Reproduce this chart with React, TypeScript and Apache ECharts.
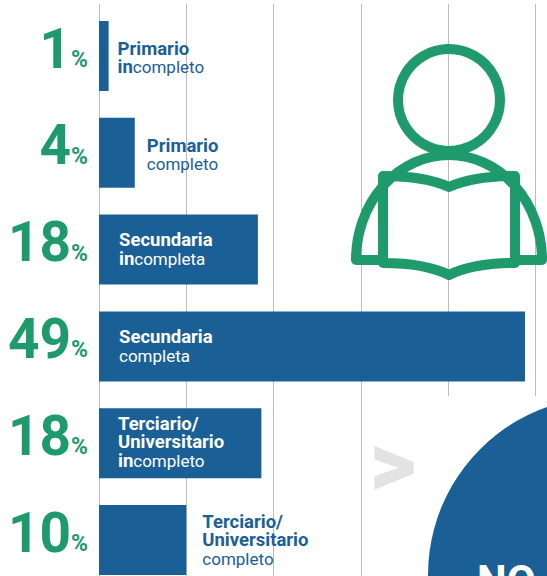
import React, { useEffect, useRef } from "react";
import * as echarts from "echarts";

const categories = ["Primario incompleto", "Primario completo", "Secundaria incompleta", "Secundaria completa", "Terciario/Universitario incompleto", "Terciario/Universitario completo"];
const values = [1.1, 4.1, 18.2, 48.8, 18.6, 10];
const percentLabels = ["1", "4", "18", "49", "18", "10"];
const labelTexts = [
  "{bb|Primario}\n{bb|in}{rb|completo}",
  "{bb|Primario}\n{rb|completo}",
  "{bw|Secundaria}\n{bw|in}{rw|completa}",
  "{bw|Secundaria}\n{rw|completa}",
  "{bw|Terciario/}\n{bw|Universitario}\n{bw|in}{rw|completo}",
  "{bb|Terciario/}\n{bb|Universitario}\n{rb|completo}",
];
const labelPlacement: [string, number][] = [["right", 9], ["right", 12], ["insideLeft", 20], ["insideLeft", 20], ["insideLeft", 19], ["right", 16]];
const labelOffsets: [number, number][] = [[0, 2], [0, 2], [0, 0], [0, 0], [0, -1], [0, 0]];

const GREEN = "#1f9a6c";
const BLUE = "#1a6096";
const GRID = "#bcbcbc";
const FONT = "Roboto";

const personPath = "M356 260 A93 105 0 0 1 542 260 L515 260 M356 260 L383 260 M383 176 Q425 176 449 187 Q473 176 515 176 L515 263 Q473 263 449 275 Q425 263 383 263 Z";

export default function App() {
  const ref = useRef<HTMLDivElement>(null);
  useEffect(() => {
    document.body.style.margin = "0";
    echarts.graphic.registerShape("person", echarts.graphic.extendPath(personPath, {}));
    const chart = echarts.init(ref.current!, null, { renderer: "svg" });
    const rich = {
      bb: { fontFamily: FONT, fontWeight: 700, fontSize: 18.5, lineHeight: 18.5, color: BLUE },
      rb: { fontFamily: FONT, fontWeight: 400, fontSize: 17, lineHeight: 18.5, color: BLUE },
      bw: { fontFamily: FONT, fontWeight: 700, fontSize: 18.5, lineHeight: 18.5, color: "#ffffff" },
      rw: { fontFamily: FONT, fontWeight: 400, fontSize: 17, lineHeight: 18.5, color: "#ffffff" },
    };
    chart.setOption({
      animation: false,
      backgroundColor: "#ffffff",
      grid: [
        { left: 99, top: 7.6, width: 436.5, height: 580.8, outerBoundsMode: "none" },
        { left: 99, top: 4, width: 436.5, height: 4, outerBoundsMode: "none" },
      ],
      xAxis: [
        { type: "value", gridIndex: 0, min: 0, max: 50, interval: 10, axisLabel: { show: false }, axisTick: { show: false }, axisLine: { show: false }, splitLine: { show: true, lineStyle: { color: GRID, width: 1 } } },
        { type: "value", gridIndex: 1, min: 0, max: 50, interval: 10, axisLabel: { show: false }, axisTick: { show: false }, axisLine: { show: false }, splitLine: { show: true, lineStyle: { color: GRID, width: 1 } } },
      ],
      yAxis: [
        {
          type: "category", gridIndex: 0, inverse: true, data: categories,
          axisTick: { show: false },
          axisLine: { show: true, lineStyle: { color: GRID, width: 1 } },
          axisLabel: {
            margin: 11,
            align: "right",
            padding: [0, 0, 14, 0],
            formatter: (_: string, i: number) => `{n|${percentLabels[i]}}{p|%}`,
            rich: {
              n: { fontFamily: FONT, fontWeight: 700, fontSize: 55, color: GREEN, lineHeight: 54, verticalAlign: "bottom" },
              p: { fontFamily: FONT, fontWeight: 700, fontSize: 23, color: GREEN, lineHeight: 24, verticalAlign: "bottom", padding: [0, 0, 5, 0] },
            },
          },
        },
        { type: "category", gridIndex: 1, data: [""], axisLabel: { show: false }, axisTick: { show: false }, axisLine: { show: false } },
      ],
      series: [
        {
          type: "bar",
          barWidth: 70,
          itemStyle: { color: BLUE },
          silent: true,
          data: values.map((v, i) => ({
            value: v,
            label: {
              show: true,
              position: labelPlacement[i][0],
              distance: labelPlacement[i][1],
              offset: labelOffsets[i],
              align: "left",
              formatter: labelTexts[i],
              rich,
            },
          })),
        },
      ],
      graphic: [
        { type: "rect", z: 1, shape: { x: 440, y: 396, width: 107, height: 180 }, style: { fill: "#ffffff" } },
        { type: "circle", z: 10, shape: { cx: 449, cy: 100, r: 51 }, style: { fill: "none", stroke: GREEN, lineWidth: 10 } },
        { type: "person", z: 10, x: 0, y: 0, style: { fill: "none", stroke: GREEN, lineWidth: 10, lineJoin: "round", lineCap: "round" } },
        { type: "circle", z: 10, shape: { cx: 606, cy: 575, r: 178 }, style: { fill: BLUE } },
        { type: "text", z: 11, x: 477, y: 559, style: { text: "NO", fill: "#ffffff", font: `700 42px ${FONT}` } },
        { type: "text", z: 10, x: 369.5, y: 418.5, style: { text: ">", fill: "#e3e3e3", font: `900 91px ${FONT}` } },
      ],
    });
    return () => chart.dispose();
  }, []);
  return <div ref={ref} style={{ width: 547, height: 576, overflow: "hidden" }} />;
}
